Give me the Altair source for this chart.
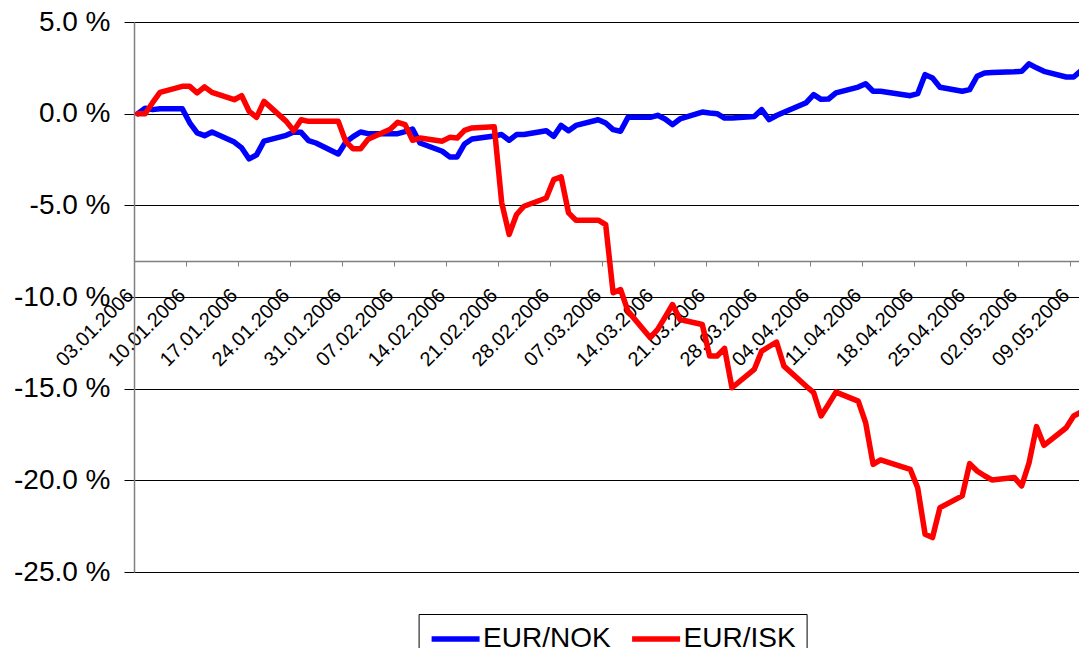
import altair as alt
import pandas as pd

SERIES = ["EUR/NOK", "EUR/ISK"]
COLORS = ["#0000FF", "#FF0000"]

# trading days (month -> day numbers), 2006
TRADING_DAYS = {
    1: [3, 4, 5, 6, 9, 10, 11, 12, 13, 16, 17, 18, 19, 20, 23, 24, 25, 26, 27, 30, 31],
    2: [1, 2, 3, 6, 7, 8, 9, 10, 13, 14, 15, 16, 17, 20, 21, 22, 23, 24, 27, 28],
    3: [1, 2, 3, 6, 7, 8, 9, 10, 13, 14, 15, 16, 17, 20, 21, 22, 23, 24, 27, 28, 29, 30, 31],
    4: [3, 4, 5, 6, 7, 10, 11, 12, 13, 17, 18, 19, 20, 21, 24, 25, 26, 27, 28],
    5: [1, 2, 3, 4, 5, 8, 9, 10, 11],
}

EUR_NOK = [
    0.0, 0.3, 0.22, 0.27, 0.27, -0.5, -1.05, -1.2, -1.0, -1.55, -1.87, -2.47, -2.25, -1.5,
    -1.18, -1.0, -1.02, -1.47, -1.6, -2.2, -1.56,
    -1.25, -1.0, -1.09, -1.09, -1.09, -0.98, -0.84, -1.6, -2.05, -2.36, -2.36, -1.65, -1.38,
    -1.22, -1.14, -1.45, -1.14, -1.14, -0.93, -1.24,
    -0.64, -0.93, -0.64, -0.33, -0.51, -0.87, -0.96, -0.2, -0.2, -0.09, -0.29, -0.6, -0.29,
    0.09, 0.04, 0.0, -0.24, -0.24, -0.15, 0.22, -0.33, -0.1, 0.08,
    0.6, 1.04, 0.78, 0.8, 1.13, 1.45, 1.63, 1.22, 1.22, 0.98, 1.09, 2.13, 1.94, 1.44,
    1.22, 1.31, 2.04, 2.22, 2.24,
    2.28, 2.31, 2.72, 2.5, 2.31, 2.0, 2.0, 2.35, 2.67,
]

EUR_ISK = [
    0.0, 0.0, 0.6, 1.16, 1.49, 1.49, 1.13, 1.46, 1.16, 0.76, 0.98, 0.13, -0.2, 0.67,
    -0.42, -0.93, -0.33, -0.42, -0.42, -0.42, -1.51,
    -1.92, -1.92, -1.4, -0.85, -0.47, -0.6, -1.45, -1.33, -1.5, -1.29, -1.33, -0.91, -0.78,
    -0.72, -4.85, -6.59, -5.5, -5.05, -4.6, -3.6,
    -3.45, -5.41, -5.81, -5.81, -6.05, -9.77, -9.59, -10.77, -12.22, -11.77, -11.1, -10.41,
    -11.23, -11.5, -13.22, -13.22, -12.8, -14.95, -13.95, -12.95, -12.7, -12.46, -13.77,
    -14.87, -15.22, -16.49, -15.85, -15.19, -15.68, -16.86, -19.13, -18.89, -19.4, -20.4,
    -22.94, -23.12, -21.49, -20.85, -19.09, -19.49, -19.75, -19.98,
    -19.84, -20.31, -19.04, -17.07, -18.09, -17.13, -16.49, -16.28, -16.9,
]

TICK_LABELS = [
    "03.01.2006", "10.01.2006", "17.01.2006", "24.01.2006", "31.01.2006", "07.02.2006",
    "14.02.2006", "21.02.2006", "28.02.2006", "07.03.2006", "14.03.2006", "21.03.2006",
    "28.03.2006", "04.04.2006", "11.04.2006", "18.04.2006", "25.04.2006", "02.05.2006",
    "09.05.2006",
]

Y_TICKS = [-25, -20, -15, -10, -5, 0, 5]

FONT = "Liberation Sans"

dates = [f"2006-{m:02d}-{d:02d}T12:00:00Z" for m, days in TRADING_DAYS.items() for d in days]
rows = []
for name, vals in zip(SERIES, [EUR_NOK, EUR_ISK]):
    for dt, v in zip(dates, vals):
        rows.append({"date": dt, "series": name, "value": v})
df = pd.DataFrame(rows)

tick_dates = [
    alt.DateTime(year=int(s[6:]), month=int(s[3:5]), date=int(s[:2]), utc=True)
    for s in TICK_LABELS
]

x_domain = [
    alt.DateTime(year=2006, month=1, date=3, utc=True),
    alt.DateTime(year=2006, month=5, date=10, hours=5, minutes=17, utc=True),
]

chart = (
    alt.Chart(df)
    .mark_line(strokeWidth=5.5, clip=True, strokeJoin="round", strokeCap="round")
    .encode(
        x=alt.X(
            "date:T",
            title=None,
            scale=alt.Scale(type="utc", domain=x_domain, nice=False),
            axis=alt.Axis(
                values=tick_dates,
                labelExpr="utcFormat(datum.value, '%d.%m.%Y')",
                orient="bottom",
                offset=-311,
                grid=False,
                domainColor="#808080",
                domainWidth=1.5,
                tickColor="#808080",
                tickSize=5,
                tickWidth=1,
                labelAngle=315,
                labelAlign="right",
                labelBaseline="middle",
                labelFont=FONT,
                labelFontSize=20,
                labelColor="black",
                labelPadding=26,
                labelOffset=-4,
                labelOverlap=False,
                labelFlush=False,
                labelBound=False,
            ),
        ),
        y=alt.Y(
            "value:Q",
            title=None,
            scale=alt.Scale(domain=[-25, 5], nice=False, zero=False),
            axis=alt.Axis(
                values=Y_TICKS,
                labelExpr="(datum.value < 0 ? '-' : '') + format(abs(datum.value), '.1f') + ' %'",
                grid=True,
                gridColor="black",
                gridWidth=1,
                domainColor="#808080",
                domainWidth=1.5,
                tickColor="black",
                tickSize=10,
                tickWidth=1,
                labelFont=FONT,
                labelFontSize=28,
                labelColor="black",
                labelPadding=14,
                labelOverlap=False,
                labelFlush=False,
            ),
        ),
        color=alt.Color(
            "series:N",
            title=None,
            sort=SERIES,
            scale=alt.Scale(domain=SERIES, range=COLORS),
            legend=alt.Legend(
                orient="none",
                legendX=284.6,
                legendY=592,
                direction="horizontal",
                symbolType="M-1,0H3",
                symbolSize=576,
                symbolStrokeWidth=5.5,
                labelFont=FONT,
                labelFontSize=28,
                labelColor="black",
                labelOffset=24.5,
                labelLimit=400,
                columnPadding=9.5,
                padding=10,
                strokeColor="black",
                fillColor="white",
            ),
        ),
    )
    .properties(
        width=945,
        height=550,
        autosize=alt.AutoSizeParams(type="none"),
        padding={"left": 126, "top": 14, "right": 0, "bottom": 76},
    )
    .configure_view(strokeWidth=0)
    .configure(background="white")
)

chart.save("out.html", embed_options={"renderer": "svg", "actions": False})
